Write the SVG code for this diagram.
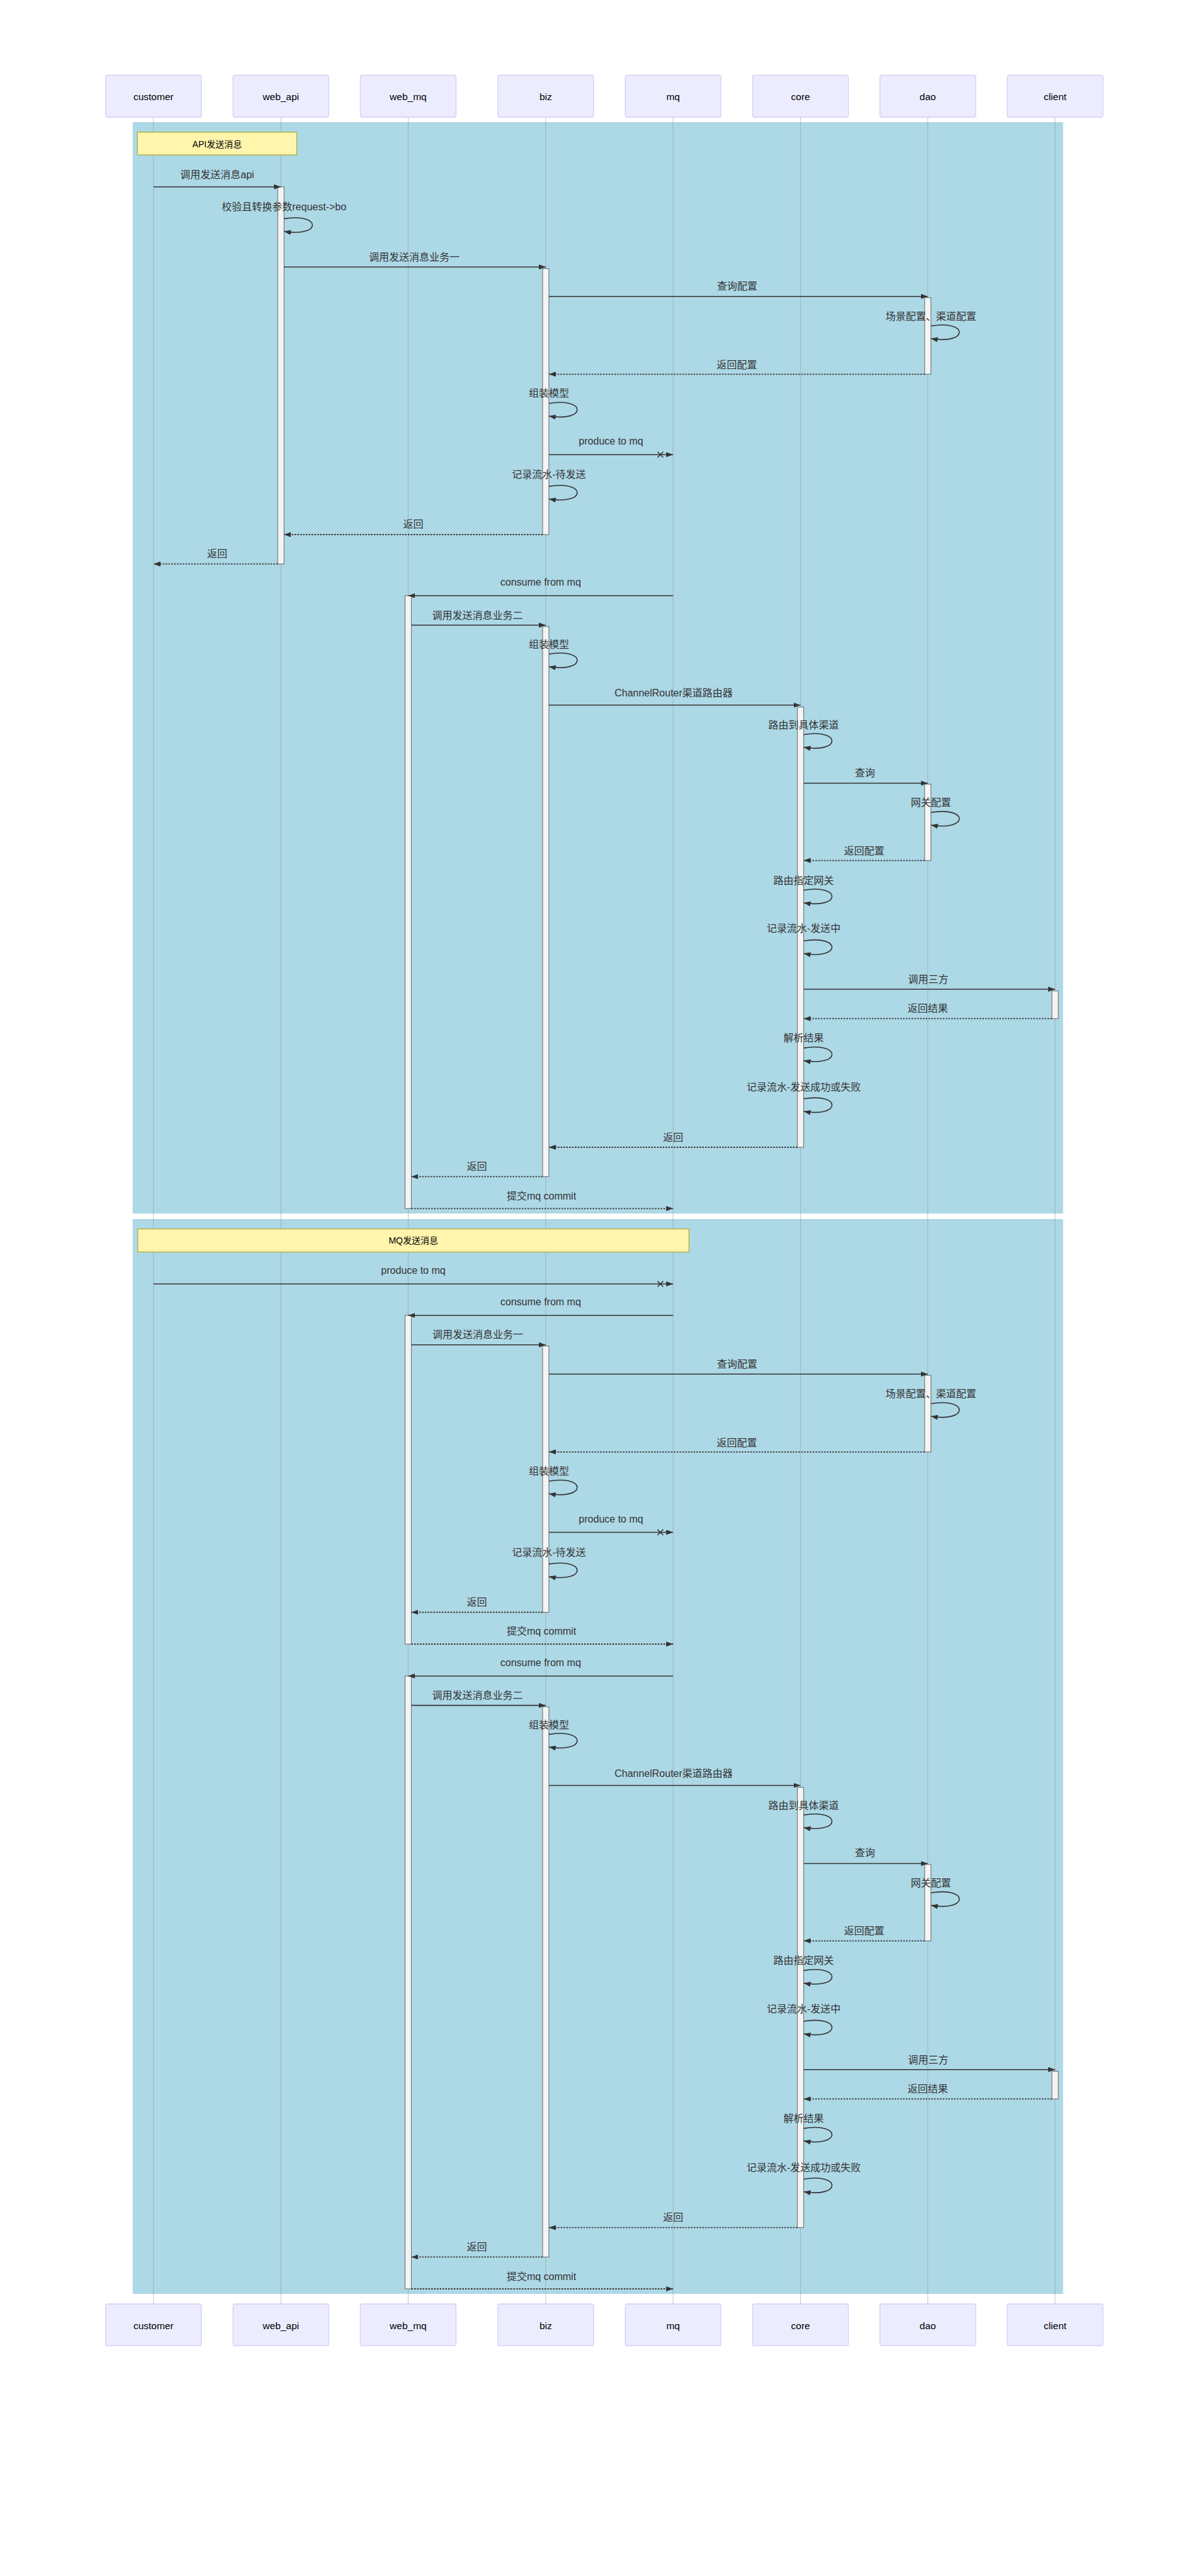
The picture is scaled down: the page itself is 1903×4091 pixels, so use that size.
<svg xmlns="http://www.w3.org/2000/svg" width="1903" height="4091" viewBox="0 0 1903 4091">
<style>
text{font-family:"Liberation Sans","Noto Sans CJK SC",sans-serif;}
.bg{fill:#ADD8E6;}
.abox{fill:#ECECFF;stroke:#D6CCF5;stroke-width:1.3;}
.aname{font-size:15.5px;fill:#000;text-anchor:middle;}
.life{stroke:#999;stroke-width:0.6;}
.note rect{fill:#FFF5AD;stroke:#AAAA33;stroke-width:1.2;}
.note text{font-size:14px;fill:#000;text-anchor:middle;}
.msg{stroke:#333;stroke-width:1.6;fill:none;marker-end:url(#ah);}
.dot{stroke:#333;stroke-width:1.8;fill:none;stroke-dasharray:2.5,2;marker-end:url(#ah);}
.loop{stroke:#333;stroke-width:1.6;fill:none;marker-end:url(#ah);}
.cross{stroke:#333;stroke-width:1.6;}
.lbl{font-size:16px;fill:#333;text-anchor:middle;}
.act{fill:#F4F4F4;stroke:#666;stroke-width:1;}
</style>
<defs>
<marker id="ah" markerUnits="userSpaceOnUse" markerWidth="12" markerHeight="10" refX="11" refY="4" orient="auto"><path d="M0,0 L11,4 L0,8 z" fill="#333"/></marker>
</defs>
<rect width="1903" height="4091" fill="#fff"/>
<rect class="bg" x="210.8" y="194" width="1477.8" height="1733.3"/>
<rect class="bg" x="210.8" y="1936" width="1477.8" height="1707"/>

<g id="actor-customer">
<line class="life" x1="243.8" y1="186" x2="243.8" y2="3659"/>
<rect class="abox" x="167.8" y="119.3" width="152" height="66.7" rx="3"/>
<text class="aname" x="243.8" y="158.5">customer</text>
<rect class="abox" x="167.8" y="3659" width="152" height="66.3" rx="3"/>
<text class="aname" x="243.8" y="3698.5">customer</text>
</g>
<g id="actor-web_api">
<line class="life" x1="446.2" y1="186" x2="446.2" y2="3659"/>
<rect class="abox" x="370.2" y="119.3" width="152" height="66.7" rx="3"/>
<text class="aname" x="446.2" y="158.5">web_api</text>
<rect class="abox" x="370.2" y="3659" width="152" height="66.3" rx="3"/>
<text class="aname" x="446.2" y="3698.5">web_api</text>
</g>
<g id="actor-web_mq">
<line class="life" x1="648.4" y1="186" x2="648.4" y2="3659"/>
<rect class="abox" x="572.4" y="119.3" width="152" height="66.7" rx="3"/>
<text class="aname" x="648.4" y="158.5">web_mq</text>
<rect class="abox" x="572.4" y="3659" width="152" height="66.3" rx="3"/>
<text class="aname" x="648.4" y="3698.5">web_mq</text>
</g>
<g id="actor-biz">
<line class="life" x1="866.9" y1="186" x2="866.9" y2="3659"/>
<rect class="abox" x="790.9" y="119.3" width="152" height="66.7" rx="3"/>
<text class="aname" x="866.9" y="158.5">biz</text>
<rect class="abox" x="790.9" y="3659" width="152" height="66.3" rx="3"/>
<text class="aname" x="866.9" y="3698.5">biz</text>
</g>
<g id="actor-mq">
<line class="life" x1="1069.2" y1="186" x2="1069.2" y2="3659"/>
<rect class="abox" x="993.2" y="119.3" width="152" height="66.7" rx="3"/>
<text class="aname" x="1069.2" y="158.5">mq</text>
<rect class="abox" x="993.2" y="3659" width="152" height="66.3" rx="3"/>
<text class="aname" x="1069.2" y="3698.5">mq</text>
</g>
<g id="actor-core">
<line class="life" x1="1271.6" y1="186" x2="1271.6" y2="3659"/>
<rect class="abox" x="1195.6" y="119.3" width="152" height="66.7" rx="3"/>
<text class="aname" x="1271.6" y="158.5">core</text>
<rect class="abox" x="1195.6" y="3659" width="152" height="66.3" rx="3"/>
<text class="aname" x="1271.6" y="3698.5">core</text>
</g>
<g id="actor-dao">
<line class="life" x1="1473.8" y1="186" x2="1473.8" y2="3659"/>
<rect class="abox" x="1397.8" y="119.3" width="152" height="66.7" rx="3"/>
<text class="aname" x="1473.8" y="158.5">dao</text>
<rect class="abox" x="1397.8" y="3659" width="152" height="66.3" rx="3"/>
<text class="aname" x="1473.8" y="3698.5">dao</text>
</g>
<g id="actor-client">
<line class="life" x1="1676" y1="186" x2="1676" y2="3659"/>
<rect class="abox" x="1600" y="119.3" width="152" height="66.7" rx="3"/>
<text class="aname" x="1676" y="158.5">client</text>
<rect class="abox" x="1600" y="3659" width="152" height="66.3" rx="3"/>
<text class="aname" x="1676" y="3698.5">client</text>
</g>

<g id="note-api" class="note">
<rect x="218.3" y="210" width="253.1" height="36"/>
<text x="344.9" y="233.6">API发送消息</text>
</g>
<g id="note-mq" class="note">
<rect x="218.9" y="1951.7" width="875.5" height="36.6"/>
<text x="656.7" y="1975.3">MQ发送消息</text>
</g>

<g id="activations">
<rect class="act" x="441.2" y="296.7" width="10" height="599"/>
<rect class="act" x="861.9" y="426.7" width="10" height="422.3"/>
<rect class="act" x="1468.8" y="472.7" width="10" height="121.6"/>
<rect class="act" x="643.4" y="946" width="10" height="973.3"/>
<rect class="act" x="861.9" y="995" width="10" height="873.7"/>
<rect class="act" x="1266.6" y="1122.9" width="10" height="699.1"/>
<rect class="act" x="1468.8" y="1245.3" width="10" height="121.3"/>
<rect class="act" x="1671" y="1573.7" width="10" height="44"/>
<rect class="act" x="643.4" y="2089" width="10" height="522"/>
<rect class="act" x="861.9" y="2137.7" width="10" height="422.8"/>
<rect class="act" x="1468.8" y="2184.2" width="10" height="121.6"/>
<rect class="act" x="643.4" y="2661.7" width="10" height="973.3"/>
<rect class="act" x="861.9" y="2710.7" width="10" height="873.7"/>
<rect class="act" x="1266.6" y="2838.6" width="10" height="699.1"/>
<rect class="act" x="1468.8" y="2961" width="10" height="121.3"/>
<rect class="act" x="1671" y="3289.4" width="10" height="44"/>
</g>

<g id="connectors">
<!-- section 1 -->
<line class="msg" x1="243.8" y1="296.7" x2="446.2" y2="296.7"/>
<text class="lbl" x="345" y="282.7">调用发送消息api</text>
<path class="loop" d="M451.2,347.4 C511.2,337.4 511.2,377.4 451.2,367.4"/>
<text class="lbl" x="451.2" y="334.3">校验且转换参数request-&gt;bo</text>
<line class="msg" x1="451.2" y1="424" x2="866.9" y2="424"/>
<text class="lbl" x="658" y="414.3">调用发送消息业务一</text>
<line class="msg" x1="871.9" y1="470.7" x2="1473.8" y2="470.7"/>
<text class="lbl" x="1171" y="460.3">查询配置</text>
<path class="loop" d="M1478.8,517.7 C1538.8,507.7 1538.8,547.7 1478.8,537.7"/>
<text class="lbl" x="1478.8" y="507.7">场景配置、渠道配置</text>
<line class="dot" x1="1468.8" y1="594.3" x2="871.9" y2="594.3"/>
<text class="lbl" x="1170.4" y="585">返回配置</text>
<path class="loop" d="M871.9,640.7 C931.9,630.7 931.9,670.7 871.9,660.7"/>
<text class="lbl" x="871.9" y="630.3">组装模型</text>
<line class="msg" x1="871.9" y1="722" x2="1069.2" y2="722"/>
<path class="cross" d="M1044.5,717.5 L1053.5,726.5 M1053.5,717.5 L1044.5,726.5"/>
<text class="lbl" x="970.5" y="706.4">produce to mq</text>
<path class="loop" d="M871.9,772.4 C931.9,762.4 931.9,802.4 871.9,792.4"/>
<text class="lbl" x="871.9" y="759.3">记录流水-待发送</text>
<line class="dot" x1="861.9" y1="849" x2="451.2" y2="849"/>
<text class="lbl" x="656.5" y="838.3">返回</text>
<line class="dot" x1="441.2" y1="895.7" x2="243.8" y2="895.7"/>
<text class="lbl" x="345" y="885.3">返回</text>
<line class="msg" x1="1069.2" y1="946" x2="648.4" y2="946"/>
<text class="lbl" x="858.8" y="930">consume from mq</text>
<line class="msg" x1="653.4" y1="992.7" x2="866.9" y2="992.7"/>
<text class="lbl" x="758.5" y="982.7">调用发送消息业务二</text>
<path class="loop" d="M871.9,1038.7 C931.9,1028.7 931.9,1068.7 871.9,1058.7"/>
<text class="lbl" x="871.9" y="1029.3">组装模型</text>
<line class="msg" x1="871.9" y1="1119.8" x2="1271.6" y2="1119.8"/>
<text class="lbl" x="1070" y="1105.9">ChannelRouter渠道路由器</text>
<path class="loop" d="M1276.6,1166.7 C1336.6,1156.7 1336.6,1196.7 1276.6,1186.7"/>
<text class="lbl" x="1276.6" y="1156.8">路由到具体渠道</text>
<line class="msg" x1="1276.6" y1="1243.8" x2="1473.8" y2="1243.8"/>
<text class="lbl" x="1374" y="1232.6">查询</text>
<path class="loop" d="M1478.8,1290.3 C1538.8,1280.3 1538.8,1320.3 1478.8,1310.3"/>
<text class="lbl" x="1478.8" y="1280">网关配置</text>
<line class="dot" x1="1468.8" y1="1366.6" x2="1276.6" y2="1366.6"/>
<text class="lbl" x="1372.7" y="1356.6">返回配置</text>
<path class="loop" d="M1276.6,1413.7 C1336.6,1403.7 1336.6,1443.7 1276.6,1433.7"/>
<text class="lbl" x="1276.6" y="1403.7">路由指定网关</text>
<path class="loop" d="M1276.6,1494.3 C1336.6,1484.3 1336.6,1524.3 1276.6,1514.3"/>
<text class="lbl" x="1276.6" y="1480">记录流水-发送中</text>
<line class="msg" x1="1276.6" y1="1571" x2="1676" y2="1571"/>
<text class="lbl" x="1474.5" y="1561.3">调用三方</text>
<line class="dot" x1="1671" y1="1617.7" x2="1276.6" y2="1617.7"/>
<text class="lbl" x="1473.8" y="1607.2">返回结果</text>
<path class="loop" d="M1276.6,1664.4 C1336.6,1654.4 1336.6,1694.4 1276.6,1684.4"/>
<text class="lbl" x="1276.6" y="1654.3">解析结果</text>
<path class="loop" d="M1276.6,1745 C1336.6,1735 1336.6,1775 1276.6,1765"/>
<text class="lbl" x="1276.6" y="1732">记录流水-发送成功或失败</text>
<line class="dot" x1="1266.6" y1="1822" x2="871.9" y2="1822"/>
<text class="lbl" x="1069.2" y="1811.7">返回</text>
<line class="dot" x1="861.9" y1="1868.7" x2="653.4" y2="1868.7"/>
<text class="lbl" x="757.6" y="1858.3">返回</text>
<line class="dot" x1="653.4" y1="1919.3" x2="1069.2" y2="1919.3"/>
<text class="lbl" x="860" y="1905">提交mq commit</text>

<!-- section 2 -->
<line class="msg" x1="243.8" y1="2039" x2="1069.2" y2="2039"/>
<path class="cross" d="M1044.5,2034.5 L1053.5,2043.5 M1053.5,2034.5 L1044.5,2043.5"/>
<text class="lbl" x="656.5" y="2023.3">produce to mq</text>
<line class="msg" x1="1069.2" y1="2089" x2="648.4" y2="2089"/>
<text class="lbl" x="858.8" y="2073.3">consume from mq</text>
<line class="msg" x1="653.4" y1="2135.7" x2="866.9" y2="2135.7"/>
<text class="lbl" x="759" y="2125.3">调用发送消息业务一</text>
<line class="msg" x1="871.9" y1="2182.2" x2="1473.8" y2="2182.2"/>
<text class="lbl" x="1171" y="2171.8">查询配置</text>
<path class="loop" d="M1478.8,2229.2 C1538.8,2219.2 1538.8,2259.2 1478.8,2249.2"/>
<text class="lbl" x="1478.8" y="2219.2">场景配置、渠道配置</text>
<line class="dot" x1="1468.8" y1="2305.8" x2="871.9" y2="2305.8"/>
<text class="lbl" x="1170.4" y="2296.5">返回配置</text>
<path class="loop" d="M871.9,2352.2 C931.9,2342.2 931.9,2382.2 871.9,2372.2"/>
<text class="lbl" x="871.9" y="2341.8">组装模型</text>
<line class="msg" x1="871.9" y1="2433.5" x2="1069.2" y2="2433.5"/>
<path class="cross" d="M1044.5,2429 L1053.5,2438 M1053.5,2429 L1044.5,2438"/>
<text class="lbl" x="970.5" y="2417.9">produce to mq</text>
<path class="loop" d="M871.9,2483.9 C931.9,2473.9 931.9,2513.9 871.9,2503.9"/>
<text class="lbl" x="871.9" y="2470.8">记录流水-待发送</text>
<line class="dot" x1="861.9" y1="2560.5" x2="653.4" y2="2560.5"/>
<text class="lbl" x="757.6" y="2549.8">返回</text>
<line class="dot" x1="653.4" y1="2611" x2="1069.2" y2="2611"/>
<text class="lbl" x="860" y="2596">提交mq commit</text>
<line class="msg" x1="1069.2" y1="2661.7" x2="648.4" y2="2661.7"/>
<text class="lbl" x="858.8" y="2646.3">consume from mq</text>
<line class="msg" x1="653.4" y1="2708.4" x2="866.9" y2="2708.4"/>
<text class="lbl" x="758.5" y="2698.4">调用发送消息业务二</text>
<path class="loop" d="M871.9,2754.4 C931.9,2744.4 931.9,2784.4 871.9,2774.4"/>
<text class="lbl" x="871.9" y="2745">组装模型</text>
<line class="msg" x1="871.9" y1="2835.5" x2="1271.6" y2="2835.5"/>
<text class="lbl" x="1070" y="2821.6">ChannelRouter渠道路由器</text>
<path class="loop" d="M1276.6,2882.4 C1336.6,2872.4 1336.6,2912.4 1276.6,2902.4"/>
<text class="lbl" x="1276.6" y="2872.5">路由到具体渠道</text>
<line class="msg" x1="1276.6" y1="2959.5" x2="1473.8" y2="2959.5"/>
<text class="lbl" x="1374" y="2948.3">查询</text>
<path class="loop" d="M1478.8,3006 C1538.8,2996 1538.8,3036 1478.8,3026"/>
<text class="lbl" x="1478.8" y="2995.7">网关配置</text>
<line class="dot" x1="1468.8" y1="3082.3" x2="1276.6" y2="3082.3"/>
<text class="lbl" x="1372.7" y="3072.3">返回配置</text>
<path class="loop" d="M1276.6,3129.4 C1336.6,3119.4 1336.6,3159.4 1276.6,3149.4"/>
<text class="lbl" x="1276.6" y="3119.4">路由指定网关</text>
<path class="loop" d="M1276.6,3210 C1336.6,3200 1336.6,3240 1276.6,3230"/>
<text class="lbl" x="1276.6" y="3195.7">记录流水-发送中</text>
<line class="msg" x1="1276.6" y1="3286.7" x2="1676" y2="3286.7"/>
<text class="lbl" x="1474.5" y="3277">调用三方</text>
<line class="dot" x1="1671" y1="3333.4" x2="1276.6" y2="3333.4"/>
<text class="lbl" x="1473.8" y="3322.9">返回结果</text>
<path class="loop" d="M1276.6,3380.1 C1336.6,3370.1 1336.6,3410.1 1276.6,3400.1"/>
<text class="lbl" x="1276.6" y="3370">解析结果</text>
<path class="loop" d="M1276.6,3460.7 C1336.6,3450.7 1336.6,3490.7 1276.6,3480.7"/>
<text class="lbl" x="1276.6" y="3447.7">记录流水-发送成功或失败</text>
<line class="dot" x1="1266.6" y1="3537.7" x2="871.9" y2="3537.7"/>
<text class="lbl" x="1069.2" y="3527.4">返回</text>
<line class="dot" x1="861.9" y1="3584.4" x2="653.4" y2="3584.4"/>
<text class="lbl" x="757.6" y="3574">返回</text>
<line class="dot" x1="653.4" y1="3635" x2="1069.2" y2="3635"/>
<text class="lbl" x="860" y="3620.7">提交mq commit</text>
</g>
</svg>
